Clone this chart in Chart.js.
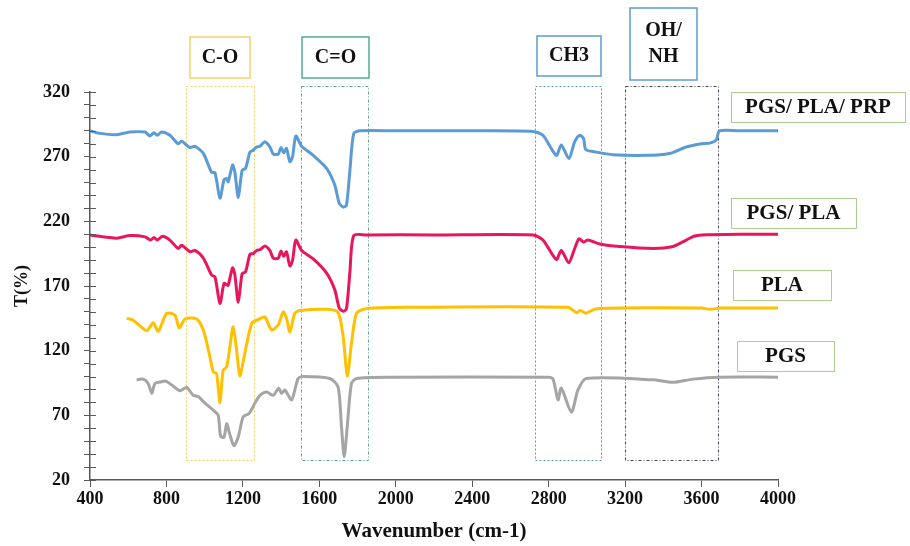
<!DOCTYPE html>
<html>
<head>
<meta charset="utf-8">
<script src="https://cdn.jsdelivr.net/npm/chart.js@4.4.0/dist/chart.umd.min.js"></script>
<style>
  html, body { margin: 0; padding: 0; background: #fff; }
  #wrap { width: 910px; height: 546px; }
</style>
</head>
<body>
<div id="wrap"><canvas id="ftir" width="910" height="546"></canvas></div>
<script>
'use strict';

// PGS/ PLA/ PRP (blue)
let prpWave = [400, 452, 540, 609, 688, 714, 735, 752, 775, 818, 862, 879, 923, 949, 993, 1036, 1054, 1080, 1101, 1115, 1123, 1146, 1158, 1176, 1196, 1214, 1237, 1254, 1272, 1289, 1315, 1341, 1359, 1385, 1399, 1414, 1428, 1446, 1460, 1477, 1507, 1568, 1638, 1681, 1704, 1725, 1742, 1760, 1780, 1812, 2000, 2400, 2718, 2770, 2840, 2866, 2906, 2936, 2962, 2983, 2994, 3050, 3136, 3311, 3433, 3520, 3600, 3642, 3677, 3694, 3800, 4000];
let prpT = [290, 288, 287, 289, 289, 286, 288.5, 286.5, 289, 286.5, 280, 282, 277, 278, 272.5, 258, 257.5, 238, 252, 253, 250.5, 263.5, 258, 238.5, 259.5, 261, 273.5, 275, 277.5, 278, 281.5, 277.5, 272, 272, 277, 273, 276.5, 266, 270, 286, 278, 271, 261, 248, 234, 231, 232.5, 259.5, 288, 290, 290, 290, 289.5, 286.5, 271, 279, 268.5, 281.5, 286.5, 284, 275.5, 273.5, 271.5, 271, 272.5, 277.5, 280, 280.5, 283, 290, 290, 290];

// PGS/ PLA (red)
let blendWave = [400, 540, 609, 688, 717, 735, 752, 780, 818, 862, 879, 923, 949, 993, 1036, 1054, 1080, 1101, 1115, 1123, 1146, 1158, 1176, 1196, 1214, 1237, 1254, 1272, 1289, 1315, 1341, 1359, 1385, 1399, 1414, 1428, 1446, 1460, 1477, 1507, 1568, 1638, 1681, 1704, 1725, 1742, 1760, 1780, 1847, 2200, 2718, 2770, 2840, 2866, 2905, 2936, 2959, 2983, 3006, 3067, 3172, 3346, 3450, 3520, 3560, 3600, 3800, 4000];
let blendT = [209.5, 207, 209, 208, 205.5, 207.5, 205.5, 208.5, 205.5, 199, 201.5, 196.5, 197.5, 191.5, 178.5, 177, 156.5, 172, 171, 170.5, 184, 178.5, 157.5, 179.5, 181, 194.5, 195, 197.5, 198, 201, 197.5, 191.5, 191.5, 197, 193, 196.5, 185.5, 190, 205.5, 197.5, 191, 180, 167, 153, 150.5, 152.5, 181, 209, 209.5, 209.5, 209.5, 205.5, 190.5, 197.5, 188, 199, 206.5, 204, 205.5, 202.5, 200.5, 199, 200.5, 205.5, 208.5, 209.5, 210, 210];

// PLA (yellow)
let plaWave = [592, 626, 696, 731, 757, 801, 844, 867, 897, 958, 993, 1027, 1045, 1062, 1080, 1097, 1115, 1132, 1149, 1167, 1184, 1210, 1246, 1280, 1315, 1350, 1385, 1411, 1428, 1446, 1472, 1498, 1638, 1698, 1725, 1746, 1768, 1795, 1847, 2073, 2900, 2945, 2966, 2994, 3050, 3600, 3642, 3700, 4000];
let plaT = [145, 143.5, 135.5, 141.5, 135, 148.8, 147.5, 137.5, 144.5, 144.5, 136, 115.5, 103.5, 102.5, 80, 105, 107.5, 123, 138.5, 120.5, 100.5, 118, 141, 144, 146, 136, 140, 150, 145, 134.5, 149, 151, 152, 149.5, 130.5, 100.5, 125.5, 149, 152.5, 153.5, 153.5, 149.5, 151, 149, 152.5, 153, 152, 153, 153];

// PGS (grey)
let pgsWave = [644, 679, 705, 723, 740, 775, 797, 836, 871, 906, 940, 966, 1001, 1045, 1071, 1083, 1101, 1115, 1132, 1153, 1176, 1202, 1233, 1263, 1289, 1324, 1359, 1388, 1402, 1420, 1455, 1489, 1515, 1655, 1698, 1716, 1730, 1746, 1768, 1795, 1969, 2800, 2823, 2849, 2866, 2919, 2953, 2997, 3346, 3450, 3555, 3694, 4000];
let pgsT = [97.5, 98, 94.5, 87, 94.5, 96, 96.5, 92.5, 89, 91.5, 85.5, 84.5, 79.5, 74, 70, 54, 53, 63.5, 55, 46.5, 53.5, 69, 71.5, 79.5, 85.5, 88, 85.5, 91, 87, 89.5, 82, 98.5, 100, 98.5, 92, 61, 38, 61, 94.5, 98.5, 99.5, 99.5, 98, 82, 91, 72.5, 89.5, 98.5, 97.5, 95.5, 98, 99.5, 99.5];

let seriesNames = ['PGS/ PLA/ PRP', 'PGS/ PLA', 'PLA', 'PGS'];

// absorption bands marked on the plot
let bandNames = ['C-O', 'C=O', 'CH3', 'OH/\nNH'];
let bandFrom = [902, 1505, 2731, 3201];
let bandTo = [1258, 1855, 3076, 3689];
let bandTop = 325;
let bandBottom = 35.5;

let xTicksFrom = 400, xTicksTo = 4000, xStep = 400;
let yTicksFrom = 20, yTicksTo = 320, yStep = 50;

const axisColor = '#595959';
const serif = "'Liberation Serif', 'DejaVu Serif', serif";
const lineColors = ['#5B9BD5', '#E8175D', '#FFC000', '#A5A5A5'];
const bandLine = ['#F2CF5B', '#5BA896', '#5B9BD5', '#44445C'];
const bandBoxLine = ['#F2D46A', '#4FAE8A', '#5B9BD5', '#5B9BD5'];
const bandDash = [[2, 2], [3, 2, 1, 2], [2, 2], [3, 2, 1, 2]];
// label boxes (pixels): [left, top, width, height]
const bandBoxes = [[190, 37, 60, 41], [302, 37, 67, 41], [537, 36, 64, 40], [630, 8, 67, 72]];
const seriesBoxes = [[731, 92, 174, 30], [731, 198, 125, 30], [733, 270, 98, 30], [737, 341, 97, 30]];

function toPoints(xs, ys) {
  let pts = [];
  for (let i = 0; i < xs.length; i++) {
    pts.push({ x: xs[i], y: ys[i] });
  }
  return pts;
}

const bandPlugin = {
  id: 'bands',
  beforeDatasetsDraw(chart) {
    const ctx = chart.ctx;
    const xs = chart.scales.x;
    const ys = chart.scales.y;
    ctx.save();
    ctx.lineWidth = 1;
    for (let i = 0; i < bandNames.length; i++) {
      const x1 = xs.getPixelForValue(bandFrom[i]);
      const x2 = xs.getPixelForValue(bandTo[i]);
      const y1 = ys.getPixelForValue(bandTop);
      const y2 = ys.getPixelForValue(bandBottom);
      ctx.setLineDash(bandDash[i]);
      ctx.strokeStyle = bandLine[i];
      ctx.strokeRect(Math.round(x1) + 0.5, Math.round(y1) + 0.5, Math.round(x2 - x1), Math.round(y2 - y1));
    }
    ctx.restore();
  },
  afterDraw(chart) {
    const ctx = chart.ctx;
    const xs = chart.scales.x;
    const ys = chart.scales.y;
    ctx.save();
    // y ticks cross the axis
    ctx.strokeStyle = axisColor;
    ctx.lineWidth = 1;
    ys.ticks.forEach(t => {
      const y = Math.round(ys.getPixelForValue(t.value)) + 0.5;
      ctx.beginPath();
      ctx.moveTo(xs.left, y);
      ctx.lineTo(xs.left + 6, y);
      ctx.stroke();
    });

    ctx.textAlign = 'center';
    ctx.textBaseline = 'middle';
    ctx.fillStyle = '#111';
    ctx.lineWidth = 1.5;
    for (let i = 0; i < bandNames.length; i++) {
      const b = bandBoxes[i];
      ctx.strokeStyle = bandBoxLine[i];
      ctx.strokeRect(b[0], b[1], b[2], b[3]);
      ctx.font = 'bold 20px ' + serif;
      const lines = bandNames[i].split('\n');
      const lh = 26;
      const cy = b[1] + b[3] / 2 - (lines.length - 1) * lh / 2;
      lines.forEach((ln, k) => ctx.fillText(ln, b[0] + b[2] / 2, cy + k * lh));
    }

    ctx.lineWidth = 1;
    for (let i = 0; i < seriesNames.length; i++) {
      const b = seriesBoxes[i];
      ctx.strokeStyle = '#A9D08E';
      ctx.strokeRect(b[0] + 0.5, b[1] + 0.5, b[2], b[3]);
      ctx.font = 'bold 21px ' + serif;
      ctx.fillText(seriesNames[i], b[0] + b[2] / 2, b[1] + b[3] / 2 + 1);
    }
    ctx.restore();
  }
};

const data = {
  datasets: [
    { label: seriesNames[0], data: toPoints(prpWave, prpT), borderColor: lineColors[0] },
    { label: seriesNames[1], data: toPoints(blendWave, blendT), borderColor: lineColors[1] },
    { label: seriesNames[2], data: toPoints(plaWave, plaT), borderColor: lineColors[2] },
    { label: seriesNames[3], data: toPoints(pgsWave, pgsT), borderColor: lineColors[3] }
  ]
};

data.datasets.forEach(ds => {
  ds.borderWidth = 3;
  ds.pointRadius = 0;
  ds.fill = false;
  ds.tension = 0.25;
});

const config = {
  type: 'line',
  data: data,
  options: {
    responsive: false,
    animation: false,
    devicePixelRatio: 1,
    layout: { padding: { top: 92, right: 132, left: 0, bottom: 0 } },
    plugins: {
      legend: { display: false },
      tooltip: { enabled: false }
    },
    scales: {
      x: {
        type: 'linear',
        min: xTicksFrom,
        max: xTicksTo,
        afterFit: s => { s.height = 66; },
        ticks: {
          stepSize: xStep,
          color: '#111',
          padding: 2,
          maxRotation: 0,
          autoSkip: false,
          font: { family: serif, size: 18, weight: 'bold' },
          callback: v => String(v)
        },
        grid: { drawOnChartArea: false, drawTicks: true, tickLength: 7, color: axisColor },
        border: { color: axisColor, width: 1.5 },
        title: {
          display: true,
          text: 'Wavenumber (cm-1)',
          color: '#111',
          padding: { top: 0, bottom: 2 },
          font: { family: serif, size: 21, weight: 'bold' }
        }
      },
      y: {
        min: yTicksFrom,
        max: yTicksTo,
        afterFit: s => { s.width = 90; },
        ticks: {
          stepSize: 10,
          color: '#111',
          padding: 14,
          autoSkip: false,
          font: { family: serif, size: 18, weight: 'bold' },
          callback: v => ((v - yTicksFrom) % yStep === 0 ? String(v) : '')
        },
        grid: { drawOnChartArea: false, drawTicks: true, tickLength: 6, color: axisColor },
        border: { color: axisColor, width: 1.5 },
        title: {
          display: true,
          text: 'T(%)',
          color: '#111',
          padding: { top: 12, bottom: 0 },
          font: { family: serif, size: 18, weight: 'bold' }
        }
      }
    }
  },
  plugins: [bandPlugin]
};

const myChart = new Chart(document.getElementById('ftir'), config);
</script>
</body>
</html>
